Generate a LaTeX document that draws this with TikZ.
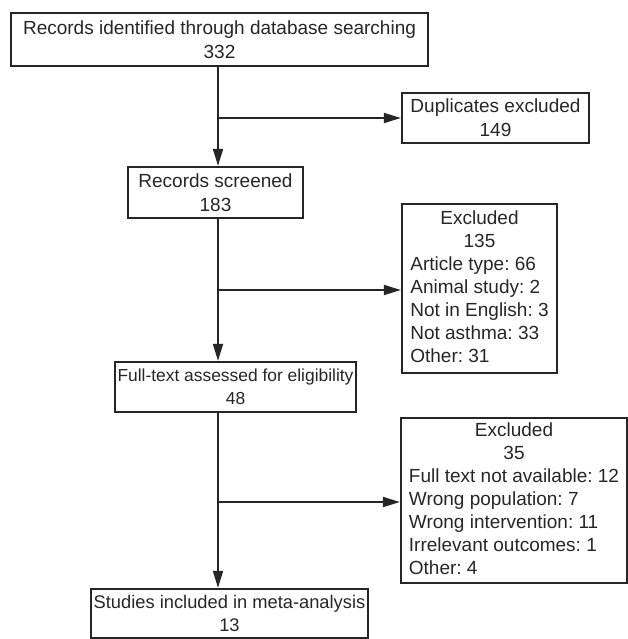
\documentclass[tikz,border=0pt]{standalone}
\usepackage{fontspec}
\setmainfont{Liberation Sans}
\frenchspacing
\usetikzlibrary{arrows.meta}
\begin{document}
\begin{tikzpicture}[x=1pt,y=-1pt,
  box/.style={draw=black!85, text=black!85, line width=2.2pt, align=center, inner sep=0pt,
    font=\fontsize{19}{24}\selectfont},
  listbox/.style={draw=black!85, text=black!85, line width=2.2pt, inner sep=0pt,
    font=\fontsize{19}{23}\selectfont},
  arr/.style={line width=1.8pt, draw=black!85, -{Triangle[length=17pt,width=10pt]}}]
\useasboundingbox (0,0) rectangle (628,639);

\node[box, minimum width=417pt, minimum height=53pt] (b1) at (219.5,39.5)
  {Records identified through database searching\\332};
\node[box, minimum width=187pt, minimum height=50pt] (dup) at (495.5,118)
  {Duplicates excluded\\149};
\node[box, minimum width=175pt, minimum height=51pt] (b2) at (215.5,192.5)
  {Records screened\\183};
\node[listbox, minimum width=155pt, minimum height=169pt] (ex1) at (479.5,288.5)
  {\frenchspacing\begin{tabular}{@{}l@{}}
   \multicolumn{1}{@{}c@{}}{Excluded}\\
   \multicolumn{1}{@{}c@{}}{135}\\
   Article type: 66\\
   Animal study: 2\\
   Not in English: 3\\
   Not asthma: 33\\
   Other: 31
   \end{tabular}};
\node[box, minimum width=241pt, minimum height=50pt, font=\fontsize{17.4}{23}\selectfont] (b3) at (235.5,387)
  {Full-text assessed for eligibility\\48};
\node[listbox, minimum width=226pt, minimum height=165pt] (ex2) at (514,500.5)
  {\frenchspacing\begin{tabular}{@{}l@{}}
   \multicolumn{1}{@{}c@{}}{Excluded}\\
   \multicolumn{1}{@{}c@{}}{35}\\
   Full text not available: 12\\
   Wrong population: 7\\
   Wrong intervention: 11\\
   Irrelevant outcomes: 1\\
   Other: 4
   \end{tabular}};
\node[box, minimum width=277pt, minimum height=49pt, font=\fontsize{18.3}{23}\selectfont] (b4) at (229.5,613.5)
  {Studies included in meta-analysis\\13};

\coordinate (s) at (218,0);
\coordinate (j1) at (218,118);
\coordinate (j2) at (218,290);
\coordinate (j3) at (218,502);

\draw[arr] (b1.south -| s) -- (b2.north -| s);
\draw[arr] (j1) -- (dup.west);
\draw[arr] (b2.south -| s) -- (b3.north -| s);
\draw[arr] (j2) -- (ex1.west |- j2);
\draw[arr] (b3.south -| s) -- (b4.north -| s);
\draw[arr] (j3) -- (ex2.west |- j3);
\end{tikzpicture}
\end{document}
